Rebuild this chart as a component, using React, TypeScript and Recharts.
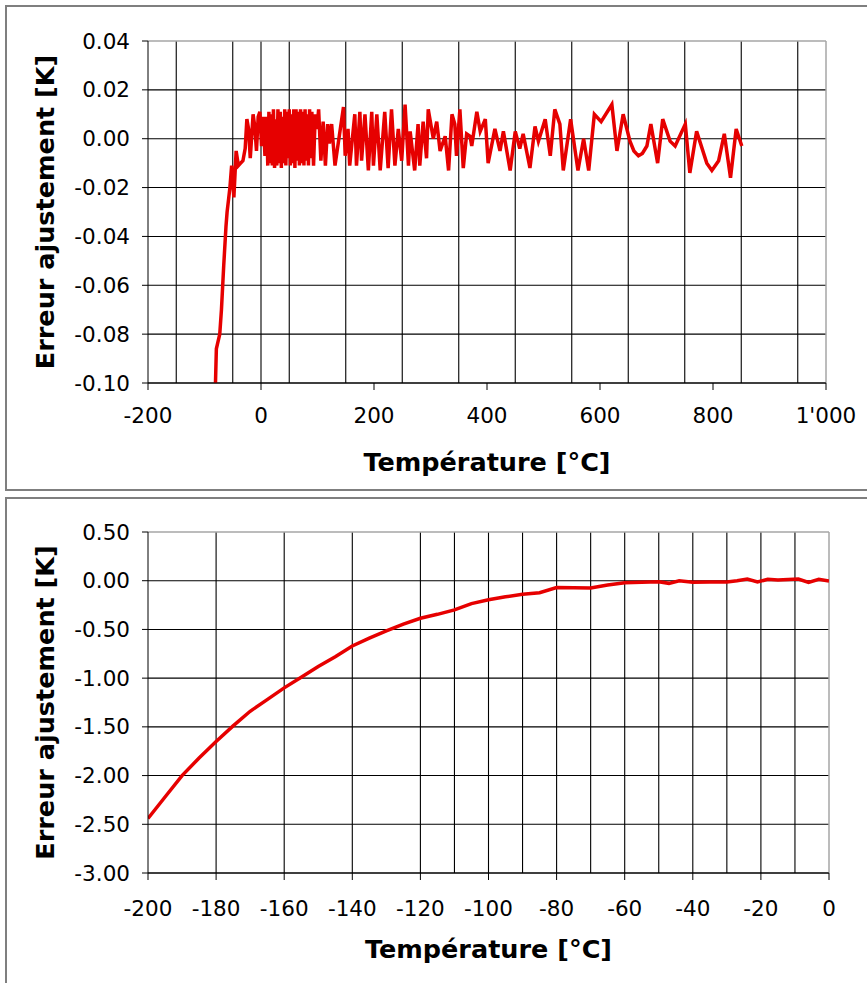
import React from "react";
import {
    LineChart,
    Line,
    XAxis,
    YAxis,
    CartesianGrid,
    ReferenceLine,
    Label,
} from "recharts";

// upper plot: fit residual over the full range
const topTemps = [
    -81, -79, -77, -73, -70, -66, -62, -60, -57, -55, -52, -48, -44, -40, -36,
    -32, -28, -25, -22, -19, -14, -11, -8, -5, -2, 1, 4, 7, 10, 12, 14, 16, 18,
    20, 22, 24, 26, 28, 30, 32, 34, 36, 38, 40, 42, 44, 46, 48, 50, 52, 54, 56,
    58, 60, 62, 64, 66, 68, 70, 72, 74, 76, 78, 80, 82, 84, 86, 88, 90, 93, 96,
    99, 102, 106, 110, 114, 118, 121, 125, 131, 146, 149, 154, 157, 166, 169,
    175, 178, 184, 190, 196, 199, 205, 211, 219, 225, 231, 237, 243, 249, 255,
    261, 264, 272, 278, 281, 287, 293, 296, 305, 311, 317, 326, 332, 338, 343,
    346, 352, 358, 364, 370, 373, 382, 388, 397, 402, 414, 423, 429, 441, 450,
    458, 464, 476, 485, 491, 503, 512, 520, 529, 535, 548, 561, 571, 580, 590,
    602, 621, 630, 641, 653, 660, 668, 675, 683, 690, 702, 711, 724, 733, 751,
    759, 771, 789, 798, 810, 820, 831, 841, 851,
];
const topErrors = [
    -0.104, -0.086, -0.084, -0.08, -0.07, -0.052, -0.036, -0.03, -0.024, -0.02,
    -0.011, -0.024, -0.005, -0.011, -0.01, -0.009, -0.004, 0.008, 0.004, -0.008,
    0.01, 0.005, -0.005, 0.009, 0.011, -0.003, 0.009, -0.007, 0.009, -0.011,
    0.011, -0.01, 0.01, -0.011, 0.012, -0.012, 0.008, -0.011, 0.012, -0.01,
    0.011, -0.012, 0.009, -0.01, 0.012, -0.011, 0.011, -0.008, 0.012, -0.011,
    0.01, -0.01, 0.012, -0.012, 0.012, -0.009, 0.011, -0.011, 0.012, -0.01,
    0.011, -0.011, 0.012, -0.009, 0.01, -0.011, 0.012, -0.008, 0.011, -0.011,
    0.01, 0.004, 0.012, -0.009, 0.007, -0.011, 0.006, -0.002, 0.006, -0.011,
    0.013, -0.007, 0.004, -0.011, 0.01, -0.011, 0.011, -0.009, 0.01, -0.013,
    0.011, -0.011, 0.01, -0.013, 0.011, -0.012, 0.012, -0.011, 0.004, -0.009,
    0.014, -0.011, 0.003, -0.013, 0.006, -0.011, 0.007, -0.008, 0.012, 0.0,
    0.007, -0.005, 0.001, -0.013, 0.01, 0.006, -0.007, 0.012, -0.012, 0.002,
    0.001, -0.003, 0.011, 0.003, 0.008, -0.01, 0.004, -0.005, 0.003, -0.013,
    0.003, -0.004, 0.002, -0.012, 0.005, -0.001, 0.008, -0.007, 0.012, 0.006,
    -0.013, 0.008, -0.013, 0.0, -0.013, 0.01, 0.007, 0.014, -0.005, 0.01,
    -0.001, -0.005, -0.007, -0.006, -0.003, 0.006, -0.01, 0.008, -0.001,
    -0.003, 0.006, -0.014, 0.003, -0.01, -0.013, -0.009, 0.002, -0.016, 0.004,
    -0.003,
];

// lower plot: fit residual below 0 °C
const lowTemps = [
    -200, -195, -190, -185, -180, -175, -170, -165, -160, -155, -150, -145,
    -140, -135, -130, -125, -120, -115, -110, -105, -100, -95, -90, -85, -80,
    -75, -70, -65, -60, -55, -50, -47, -44, -40, -35, -30, -27, -24, -21, -18,
    -15, -12, -9, -6, -3, 0,
];
const lowErrors = [
    -2.44, -2.22, -2.0, -1.82, -1.65, -1.49, -1.34, -1.22, -1.1, -0.99, -0.88,
    -0.78, -0.67, -0.59, -0.515, -0.445, -0.385, -0.345, -0.3, -0.235, -0.195,
    -0.165, -0.14, -0.123, -0.07, -0.072, -0.075, -0.045, -0.02, -0.015, -0.01,
    -0.027, 0.0, -0.015, -0.013, -0.012, 0.0, 0.017, -0.013, 0.014, 0.008,
    0.012, 0.017, -0.017, 0.014, -0.003,
];

const topXTicks = [-200, 0, 200, 400, 600, 800, 1000];
const topXGrid = [
    -150, -100, -50, 0, 50, 100, 150, 200, 250, 300, 350, 400, 450, 500, 550,
    600, 650, 700, 750, 800, 850, 900, 950,
];
const topYTicks = [0.04, 0.02, 0, -0.02, -0.04, -0.06, -0.08, -0.1];

const lowXTicks = [
    -200, -180, -160, -140, -120, -100, -80, -60, -40, -20, 0,
];
const lowXGrid = [
    -190, -180, -170, -160, -150, -140, -130, -120, -110, -100, -90, -80, -70,
    -60, -50, -40, -30, -20, -10,
];
const lowYTicks = [0.5, 0, -0.5, -1, -1.5, -2, -2.5, -3];

const FONT = "DejaVu Sans";

const fmtTemp = (v: number) =>
    Math.abs(v) >= 1000
        ? String(v).replace(/(\d)(\d{3})$/, "$1'$2")
        : String(v);

function ErrorChart({
    temps,
    errors,
    xTicks,
    xGrid,
    yTicks,
    xDomain,
    yDomain,
    width,
    height,
    margin,
    titleOffset,
    xTickGap,
}: any) {
    const data = temps.map((t: number, i: number) => ({ t, e: errors[i] }));
    return (
        <LineChart width={width} height={height} data={data} margin={margin}>
            <CartesianGrid
                stroke="#000"
                strokeWidth={1.1}
                verticalValues={xGrid}
                horizontalValues={yTicks.slice(1)}
            />
            <ReferenceLine y={yDomain[1]} stroke="#a6a6a6" strokeWidth={1.5} />
            <ReferenceLine x={xDomain[1]} stroke="#a6a6a6" strokeWidth={1.5} />
            <XAxis
                type="number"
                dataKey="t"
                domain={xDomain}
                ticks={xTicks}
                allowDataOverflow
                tickFormatter={fmtTemp}
                stroke="#000"
                tickSize={7}
                tickMargin={xTickGap}
                height={110}
                tick={{ fill: "#000", fontSize: 21.5, fontFamily: FONT }}
            >
                <Label
                    value="Température [°C]"
                    position="insideBottom"
                    offset={titleOffset}
                    fill="#000"
                    fontSize={25.5}
                    fontWeight="bold"
                    fontFamily={FONT}
                />
            </XAxis>
            <YAxis
                type="number"
                domain={yDomain}
                ticks={yTicks}
                allowDataOverflow
                tickFormatter={(v: number) => v.toFixed(2)}
                stroke="#000"
                tickSize={6}
                tickMargin={12}
                width={148}
                tick={{ fill: "#000", fontSize: 21.5, fontFamily: FONT }}
            >
                <Label
                    value="Erreur ajustement [K]"
                    angle={-90}
                    position="center"
                    dx={-29}
                    fill="#000"
                    fontSize={25.5}
                    fontWeight="bold"
                    fontFamily={FONT}
                />
            </YAxis>
            <Line
                type="linear"
                dataKey="e"
                stroke="#e60000"
                strokeWidth={3.5}
                dot={false}
                isAnimationActive={false}
            />
        </LineChart>
    );
}

export default function App() {
    return (
        <div style={pageStyle}>
            <div style={{ ...boxStyle, top: 5, height: 486 }} />
            <div style={{ ...boxStyle, top: 497, height: 520 }} />
            <div style={{ position: "absolute", left: 0, top: 0 }}>
                <ErrorChart
                    temps={topTemps}
                    errors={topErrors}
                    xTicks={topXTicks}
                    xGrid={topXGrid}
                    yTicks={topYTicks}
                    xDomain={[-200, 1000]}
                    yDomain={[-0.1, 0.04]}
                    width={867}
                    height={493}
                    margin={{ top: 41, right: 41, bottom: 0, left: 0 }}
                    titleOffset={22}
                    xTickGap={18}
                />
            </div>
            <div style={{ position: "absolute", left: 0, top: 493 }}>
                <ErrorChart
                    temps={lowTemps}
                    errors={lowErrors}
                    xTicks={lowXTicks}
                    xGrid={lowXGrid}
                    yTicks={lowYTicks}
                    xDomain={[-200, 0]}
                    yDomain={[-3, 0.5]}
                    width={867}
                    height={490}
                    margin={{ top: 39, right: 38, bottom: 0, left: 0 }}
                    titleOffset={25}
                    xTickGap={21}
                />
            </div>
        </div>
    );
}

const pageStyle: React.CSSProperties = {
    position: "absolute",
    left: 0,
    top: 0,
    width: 867,
    height: 983,
    overflow: "hidden",
    background: "#fff",
};

const boxStyle: React.CSSProperties = {
    position: "absolute",
    left: 5,
    width: 900,
    border: "2px solid #7f7f7f",
    boxSizing: "border-box",
};
